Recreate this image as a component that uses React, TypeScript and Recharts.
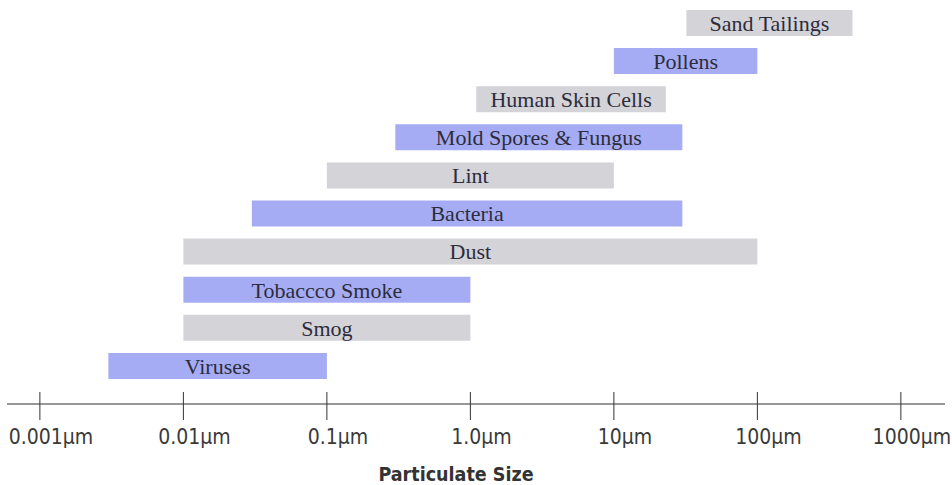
import { Bar, BarChart, Cell, LabelList, XAxis, YAxis } from 'recharts'

// particle size ranges in micrometres, top row first
const particles = [
  'Sand Tailings',
  'Pollens',
  'Human Skin Cells',
  'Mold Spores & Fungus',
  'Lint',
  'Bacteria',
  'Dust',
  'Tobaccco Smoke',
  'Smog',
  'Viruses',
]
const minSize = [32, 10, 1.1, 0.3, 0.1, 0.03, 0.01, 0.01, 0.01, 0.003]
const maxSize = [460, 100, 23, 30, 10, 30, 100, 1, 1, 0.1]

const tickValues = [0.001, 0.01, 0.1, 1, 10, 100, 1000]
const tickLabels = ['0.001µm', '0.01µm', '0.1µm', '1.0µm', '10µm', '100µm', '1000µm']

const BLUE = '#a6acf3'
const GRAY = '#d3d3d8'
const sansNarrow = "'Liberation Sans Narrow', 'DejaVu Sans Condensed', 'Liberation Sans', Arial, sans-serif"

function SizeTick({ x, y, index }: any) {
  return (
    <g>
      <line x1={x} x2={x} y1={y - 12} y2={y + 16} stroke="#333" strokeWidth={1} />
      <text
        x={x + 11}
        y={y + 40}
        textAnchor="middle"
        fontFamily={sansNarrow}
        fontSize={21}
        fill="#3a3a3a"
      >
        {tickLabels[index]}
      </text>
    </g>
  )
}

export default function App() {
  const data = particles.map((name, i) => ({
    name,
    range: [minSize[i], maxSize[i]],
  }))

  return (
    <div style={{ position: 'absolute', left: 0, top: 0, width: 952, height: 485, background: '#fff' }}>
      <BarChart
        width={952}
        height={485}
        data={data}
        layout="vertical"
        margin={{ top: 4, right: 7, left: 7, bottom: 0 }}
        barCategoryGap={0}
      >
        <XAxis
          type="number"
          scale="log"
          domain={[0.00059, 2030]}
          allowDataOverflow
          ticks={tickValues}
          interval={0}
          tick={<SizeTick />}
          tickLine={false}
          tickSize={0}
          tickMargin={0}
          axisLine={{ stroke: '#333', strokeWidth: 1.2 }}
          height={81}
          label={{
            value: 'Particulate Size',
            position: 'insideBottom',
            offset: 4,
            dx: -20,
            style: { fontFamily: sansNarrow, fontSize: 19.5, fontWeight: 'bold', fill: '#333' },
          }}
        />
        <YAxis type="category" dataKey="name" hide padding={{ top: 0, bottom: 19 }} />
        <Bar dataKey="range" barSize={26} isAnimationActive={false}>
          {data.map((d, i) => (
            <Cell key={d.name} fill={i % 2 === 0 ? GRAY : BLUE} />
          ))}
          <LabelList
            dataKey="name"
            position="center"
            style={{ fontFamily: "'Liberation Serif', 'Times New Roman', serif", fontSize: 22, fill: '#2c2c3c' }}
          />
        </Bar>
      </BarChart>
    </div>
  )
}
